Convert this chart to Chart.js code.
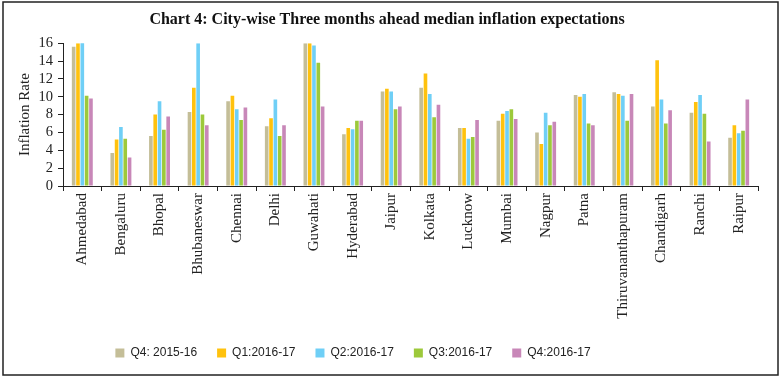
<!DOCTYPE html>
<html>
<head>
<meta charset="utf-8">
<script src="https://cdn.jsdelivr.net/npm/chart.js@4"></script>
<style>
  html, body { margin: 0; padding: 0; background: #fff; }
  #wrap { width: 782px; height: 380px; position: relative; }
</style>
</head>
<body>
<div id="wrap"><canvas id="c" width="782" height="380"></canvas></div>
<script>
const cities = ["Ahmedabad","Bengaluru","Bhopal","Bhubaneswar","Chennai","Delhi","Guwahati","Hyderabad","Jaipur","Kolkata","Lucknow","Mumbai","Nagpur","Patna","Thiruvananthapuram","Chandigarh","Ranchi","Raipur"];
const seriesNames = ["Q4: 2015-16","Q1:2016-17","Q2:2016-17","Q3:2016-17","Q4:2016-17"];
const q4_2015 = [15.6,3.7,5.6,8.3,9.5,6.7,16.0,5.8,10.6,11.0,6.5,7.3,6.0,10.2,10.5,8.9,8.2,5.4];
const q1_2016 = [16.0,5.2,8.0,11.0,10.1,7.6,16.0,6.5,10.9,12.6,6.5,8.1,4.7,10.0,10.3,14.1,9.4,6.8];
const q2_2016 = [16.1,6.6,9.5,16.0,8.6,9.7,15.75,6.35,10.6,10.3,5.3,8.4,8.2,10.3,10.1,9.7,10.2,5.9];
const q3_2016 = [10.1,5.3,6.3,8.0,7.4,5.6,13.8,7.3,8.6,7.7,5.5,8.6,6.8,7.0,7.3,7.0,8.1,6.2];
const q4_2016 = [9.8,3.2,7.8,6.8,8.8,6.8,8.9,7.3,8.9,9.1,7.4,7.5,7.2,6.8,10.3,8.5,5.0,9.7];
const yTicks = [0,2,4,6,8,10,12,14,16];
const colors = ["#c4be98","#ffc20e","#6fcff6","#9dc93b","#c887b8"];

const allSeries = [q4_2015,q1_2016,q2_2016,q3_2016,q4_2016];
const datasets = allSeries.map((d,i)=>({
  label: seriesNames[i],
  data: d,
  backgroundColor: colors[i],
  borderWidth: 0,
  categoryPercentage: 0.56,
  barPercentage: 0.84
}));

const borderPlugin = {
  id: 'outerBorder',
  afterLayout(chart) {
    const lg = chart.legend;
    if (lg) { lg.left -= 34; lg.right -= 34; }
  },
  afterDraw(chart) {
    const ctx = chart.ctx;
    ctx.save();
    ctx.strokeStyle = '#222';
    ctx.lineWidth = 1.5;
    ctx.strokeRect(3, 2, 775, 373);
    ctx.restore();
  }
};

new Chart(document.getElementById('c'), {
  type: 'bar',
  data: { labels: cities, datasets },
  options: {
    responsive: false,
    animation: false,
    layout: { padding: { left: 16, right: 24, top: 0, bottom: 11 } },
    plugins: {
      title: {
        display: true,
        text: 'Chart 4: City-wise Three months ahead median inflation expectations',
        font: { family: 'Liberation Serif', size: 16, weight: 'bold' },
        color: '#111',
        padding: { top: 10, bottom: 14 }
      },
      legend: {
        position: 'bottom',
        labels: {
          boxWidth: 9, boxHeight: 9, padding: 20,
          font: { family: 'Liberation Sans', size: 12 },
          color: '#222'
        }
      },
      tooltip: { enabled: false }
    },
    scales: {
      x: {
        afterFit(scale) { scale.height = 141; },
        grid: { display: true, offset: true, drawOnChartArea: false, drawTicks: true, tickLength: 5, color: '#222' },
        border: { display: true, color: '#222' },
        ticks: {
          maxRotation: 90, minRotation: 90, autoSkip: false, padding: 2,
          font: { family: 'Liberation Serif', size: 15 },
          color: '#222'
        }
      },
      y: {
        min: 0, max: 16,
        afterFit(scale) { scale.width = 47; },
        afterBuildTicks(scale) { scale.ticks = yTicks.map(v => ({ value: v })); },
        grid: { display: true, drawOnChartArea: false, drawTicks: true, tickLength: 5, color: '#222' },
        border: { display: true, color: '#222' },
        ticks: {
          autoSkip: false, stepSize: 2,
          padding: 5,
          font: { family: 'Liberation Serif', size: 14.5 },
          color: '#222'
        },
        title: {
          display: true, text: 'Inflation Rate',
          font: { family: 'Liberation Serif', size: 15 },
          color: '#222', padding: { top: 0, bottom: 4 }
        }
      }
    }
  },
  plugins: [borderPlugin]
});
</script>
</body>
</html>
